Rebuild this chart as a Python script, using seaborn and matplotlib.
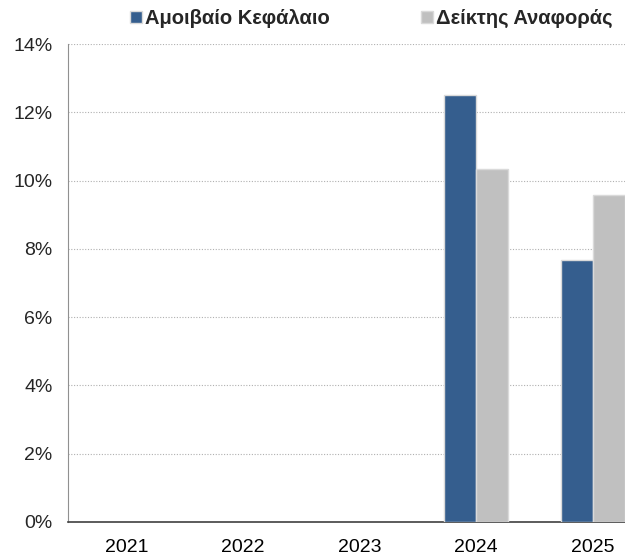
import numpy as np
import pandas as pd
import matplotlib
matplotlib.use("Agg")
import matplotlib.pyplot as plt
from matplotlib.lines import Line2D
from matplotlib.ticker import FixedLocator, FuncFormatter
import seaborn as sns

#Chart data
years = ["2021", "2022", "2023", "2024", "2025"]
fund_returns = [np.nan, np.nan, np.nan, 12.5, 7.67]
benchmark_returns = [np.nan, np.nan, np.nan, 10.34, 9.58]
series_names = ["Αμοιβαίο Κεφάλαιο", "Δείκτης Αναφοράς"]
series_colors = ["#355E8E", "#C0C0C0"]

#Long table for seaborn
df = pd.DataFrame({
    "year": years * 2,
    "value": fund_returns + benchmark_returns,
    "series": [series_names[0]] * len(years) + [series_names[1]] * len(years),
})

sns.set_style("white")
plt.rcParams["font.family"] = ["Liberation Sans", "DejaVu Sans"]

fig = plt.figure(figsize=(6.25, 5.53), dpi=100)
#Axes run past the right edge like the original export
ax = fig.add_axes([68 / 625, 31 / 553, 583 / 625, 478 / 553])

sns.barplot(
    data=df,
    x="year",
    y="value",
    hue="series",
    order=years,
    hue_order=series_names,
    palette=series_colors,
    saturation=1,
    width=0.55,
    edgecolor="#DADADA",
    linewidth=1,
    ax=ax,
    legend=False,
    zorder=3,
)

#Y axis formatting
ax.set_ylim(0, 14)
ax.set_yticks(np.arange(0, 15, 2))
ax.yaxis.set_major_formatter(FuncFormatter(lambda v, p: f"{v:.0f}%"))
ax.yaxis.grid(True, linestyle=(0, (1, 1.5)), color="#B0B0B0", linewidth=0.8, zorder=0)
ax.set_xlim(-0.5, 4.5)

#Category boundary ticks on the x axis
ax.xaxis.set_minor_locator(FixedLocator(np.arange(-0.5, 5, 1)))
ax.tick_params(axis="x", which="major", length=0, labelsize=14, pad=12, colors="black")
ax.tick_params(axis="x", which="minor", length=6, direction="out", color="#404040", width=1)
ax.tick_params(axis="y", which="major", length=6, direction="out", color="#909090", width=1,
               labelsize=14, pad=5)

for side in ["top", "right"]:
    ax.spines[side].set_visible(False)
ax.spines["left"].set_color("#909090")
ax.spines["bottom"].set_color("#404040")
ax.spines["bottom"].set_linewidth(1.2)

ax.set_xlabel("")
ax.set_ylabel("")

#Legend at the top
handles = [
    Line2D([], [], marker="s", linestyle="", markersize=9, color=c, markeredgecolor="#DADADA")
    for c in series_colors
]
leg = fig.legend(
    handles, series_names,
    loc="center", bbox_to_anchor=(0.594, 0.966),
    ncol=2, frameon=False, handlelength=0.6, handletextpad=0.15, columnspacing=4.5,
    prop={"weight": "bold", "size": 14.5},
)

plt.savefig("out.png", dpi=100)
